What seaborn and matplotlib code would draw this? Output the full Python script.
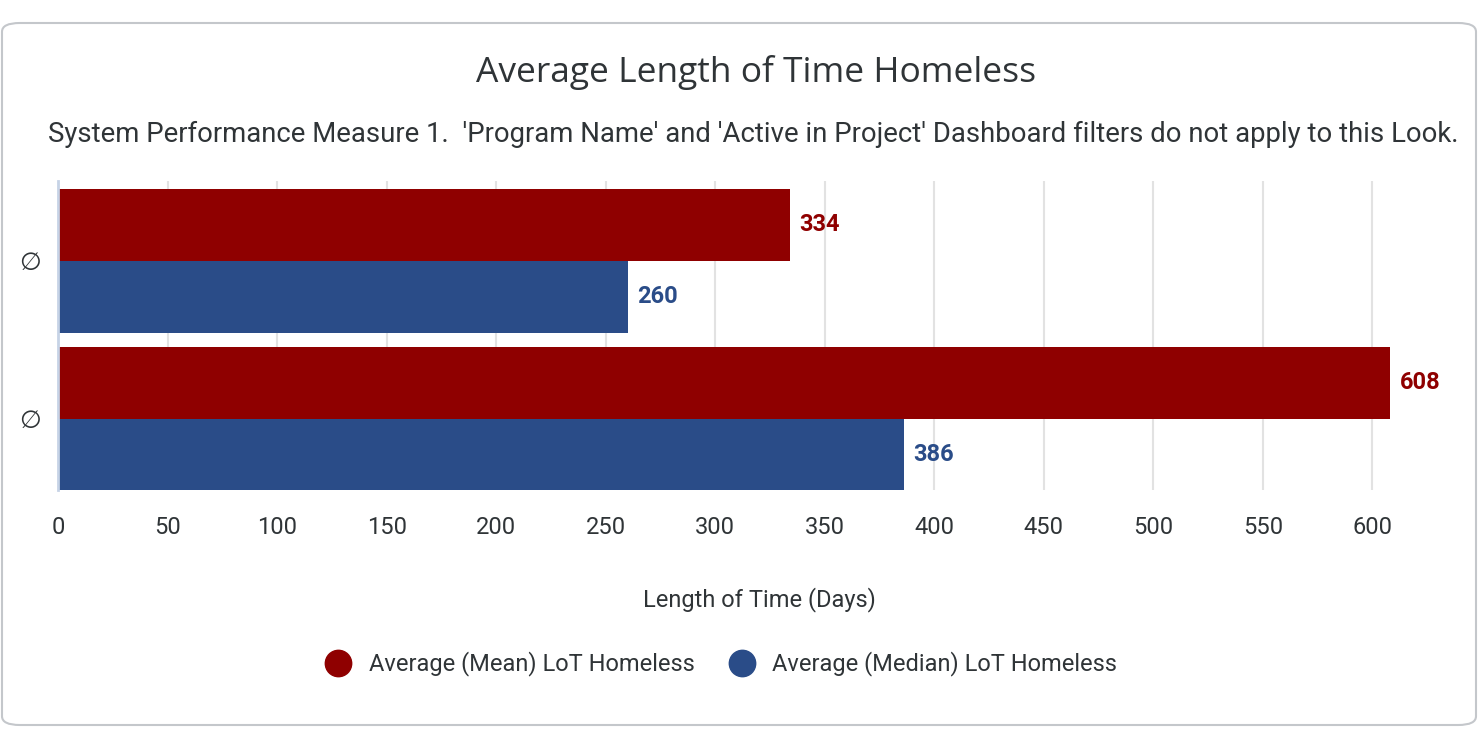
import matplotlib
matplotlib.use("Agg")
import matplotlib.pyplot as plt
import seaborn as sns
import pandas as pd
from matplotlib.patches import FancyBboxPatch
from matplotlib.lines import Line2D

# data
row_ids = ["r1", "r2"]
row_labels = ["∅", "∅"]
series = ["Average (Mean) LoT Homeless", "Average (Median) LoT Homeless"]
mean_days = [334, 608]
median_days = [260, 386]
x_ticks = [0, 50, 100, 150, 200, 250, 300, 350, 400, 450, 500, 550, 600]

colors = ["#8f0000", "#2a4c88"]

df = pd.DataFrame({
    "row": row_ids * 2,
    "series": [series[0]] * 2 + [series[1]] * 2,
    "days": mean_days + median_days,
})

sns.set_theme(style="white")
plt.rcParams["font.family"] = ["Roboto", "DejaVu Sans"]
text_col = "#2f3437"

fig = plt.figure(figsize=(14.79, 7.3), dpi=100)
ax = fig.add_axes([58 / 1479, 1 - 490 / 730, (1460 - 58) / 1479, (490 - 181) / 730])

sns.barplot(data=df, y="row", x="days", hue="series", order=row_ids,
            hue_order=series, palette=colors, orient="h", width=0.91,
            saturation=1, ax=ax, legend=False, linewidth=0)

for cont, col in zip(ax.containers, colors):
    ax.bar_label(cont, fmt="%d", padding=7, color=col, fontsize=17, fontweight="bold")

ax.set_xlim(0, 640)
ax.set_ylim(1.45, -0.505)
ax.set_xticks(x_ticks)
ax.set_xticklabels([str(t) for t in x_ticks], fontsize=17, color=text_col)
ax.set_yticks(range(len(row_ids)))
ax.set_yticklabels(row_labels, fontsize=18, color=text_col, family=["DejaVu Sans"])
ax.tick_params(axis="x", length=0, pad=19)
ax.tick_params(axis="y", length=0, pad=12)
ax.xaxis.grid(True, color="#e2e2e2", linewidth=1.5)
ax.set_axisbelow(True)
for s in ["top", "right", "bottom"]:
    ax.spines[s].set_visible(False)
ax.spines["left"].set_color("#c6d3e6")
ax.spines["left"].set_linewidth(2)
ax.set_ylabel("")
ax.set_xlabel("Length of Time (Days)", fontsize=17, color=text_col, labelpad=34)

fig.text(0.511, 1 - 73 / 730, "Average Length of Time Homeless", ha="center", va="center",
         fontsize=25.5, color=text_col, family=["Open Sans", "DejaVu Sans"])
fig.text(0.509, 1 - 134 / 730,
         "System Performance Measure 1.  'Program Name' and 'Active in Project' Dashboard filters do not apply to this Look.",
         ha="center", va="center", fontsize=19.8, color=text_col)

handles = [Line2D([], [], marker="o", linestyle="", markersize=19, color=c) for c in colors]
fig.legend(handles, series, loc="center", bbox_to_anchor=(0.484, 1 - 664 / 730), ncol=2,
           frameon=False, fontsize=17, labelcolor=text_col, handletextpad=0.3,
           columnspacing=1.0)

fig.patches.append(FancyBboxPatch((2 / 1479, 5 / 730), 1474 / 1479, 702 / 730,
                                  boxstyle="round,pad=0,rounding_size=0.012",
                                  transform=fig.transFigure, facecolor="none",
                                  edgecolor="#c4c7cb", linewidth=1.5))

fig.savefig("out.png", dpi=100)
